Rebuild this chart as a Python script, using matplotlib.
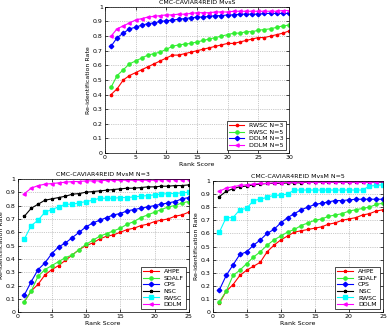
import numpy as np
import matplotlib.pyplot as plt

# top: CMC-CAVIAR4REID MvsS, ranks 1..30
rank_s = np.arange(1, 31)
rwsc_n3 = [0.40, 0.44, 0.50, 0.53, 0.55, 0.57, 0.59, 0.61, 0.63, 0.65, 0.67, 0.67, 0.68, 0.69, 0.70,
           0.71, 0.72, 0.73, 0.74, 0.75, 0.75, 0.76, 0.77, 0.78, 0.79, 0.79, 0.80, 0.81, 0.82, 0.835]
rwsc_n5 = [0.45, 0.53, 0.57, 0.61, 0.63, 0.65, 0.67, 0.68, 0.69, 0.71, 0.73, 0.74, 0.745, 0.75, 0.76,
           0.77, 0.78, 0.79, 0.80, 0.81, 0.82, 0.82, 0.83, 0.83, 0.84, 0.845, 0.85, 0.86, 0.87, 0.875]
ddlm_n3 = [0.73, 0.79, 0.82, 0.85, 0.86, 0.875, 0.885, 0.89, 0.90, 0.905, 0.91, 0.915, 0.92, 0.925, 0.93,
           0.93, 0.935, 0.94, 0.94, 0.945, 0.945, 0.95, 0.95, 0.95, 0.95, 0.955, 0.955, 0.955, 0.955, 0.955]
ddlm_n5 = [0.80, 0.85, 0.87, 0.89, 0.91, 0.92, 0.93, 0.935, 0.94, 0.945, 0.945, 0.95, 0.95, 0.955, 0.96,
           0.96, 0.96, 0.965, 0.965, 0.965, 0.97, 0.97, 0.97, 0.97, 0.97, 0.97, 0.97, 0.97, 0.975, 0.975]

# bottom: MvsM, ranks 1..25
rank_m = np.arange(1, 26)
methods = ["AHPE", "SDALF", "CPS", "NSC", "RWSC", "DDLM"]
mvsm_n3 = {
    "AHPE": [0.08, 0.16, 0.21, 0.28, 0.32, 0.35, 0.39, 0.43, 0.47, 0.50, 0.52, 0.55, 0.57, 0.58, 0.60,
             0.62, 0.63, 0.65, 0.66, 0.68, 0.69, 0.70, 0.72, 0.73, 0.75],
    "SDALF": [0.08, 0.16, 0.27, 0.32, 0.35, 0.38, 0.41, 0.43, 0.47, 0.51, 0.54, 0.57, 0.59, 0.61, 0.63,
              0.66, 0.68, 0.71, 0.73, 0.75, 0.77, 0.79, 0.80, 0.82, 0.83],
    "CPS": [0.13, 0.23, 0.32, 0.37, 0.44, 0.49, 0.52, 0.56, 0.60, 0.64, 0.67, 0.69, 0.71, 0.73, 0.74,
            0.76, 0.77, 0.78, 0.79, 0.80, 0.81, 0.82, 0.83, 0.85, 0.86],
    "NSC": [0.72, 0.78, 0.81, 0.84, 0.85, 0.86, 0.87, 0.885, 0.89, 0.90, 0.905, 0.91, 0.915, 0.92, 0.925,
            0.93, 0.93, 0.935, 0.94, 0.94, 0.945, 0.945, 0.95, 0.95, 0.955],
    "RWSC": [0.55, 0.65, 0.69, 0.75, 0.77, 0.79, 0.81, 0.81, 0.82, 0.83, 0.84, 0.855, 0.855, 0.855, 0.86,
             0.86, 0.865, 0.87, 0.875, 0.88, 0.885, 0.89, 0.89, 0.895, 0.90],
    "DDLM": [0.89, 0.93, 0.95, 0.96, 0.965, 0.97, 0.975, 0.98, 0.98, 0.985, 0.985, 0.985, 0.99, 0.99, 0.99,
             0.99, 0.99, 0.99, 0.99, 0.99, 0.995, 0.995, 0.995, 0.995, 0.995],
}
mvsm_n5 = {
    "AHPE": [0.07, 0.16, 0.21, 0.28, 0.32, 0.35, 0.38, 0.46, 0.51, 0.55, 0.58, 0.61, 0.62, 0.63, 0.64,
             0.65, 0.67, 0.68, 0.70, 0.71, 0.72, 0.74, 0.75, 0.77, 0.78],
    "SDALF": [0.08, 0.16, 0.28, 0.32, 0.37, 0.42, 0.46, 0.51, 0.55, 0.58, 0.61, 0.63, 0.66, 0.68, 0.70,
              0.71, 0.73, 0.74, 0.75, 0.77, 0.78, 0.79, 0.80, 0.82, 0.83],
    "CPS": [0.17, 0.28, 0.36, 0.44, 0.46, 0.51, 0.55, 0.60, 0.63, 0.68, 0.72, 0.75, 0.78, 0.80, 0.82,
            0.83, 0.84, 0.85, 0.85, 0.855, 0.86, 0.86, 0.86, 0.86, 0.86],
    "NSC": [0.88, 0.92, 0.94, 0.955, 0.96, 0.97, 0.975, 0.98, 0.98, 0.98, 0.985, 0.985, 0.985, 0.99, 0.99,
            0.99, 0.99, 0.99, 0.99, 0.99, 0.99, 0.99, 0.99, 0.99, 0.99],
    "RWSC": [0.61, 0.72, 0.72, 0.78, 0.79, 0.85, 0.86, 0.875, 0.89, 0.89, 0.90, 0.93, 0.93, 0.93, 0.93,
             0.93, 0.93, 0.93, 0.93, 0.93, 0.93, 0.93, 0.96, 0.965, 0.97],
    "DDLM": [0.92, 0.945, 0.955, 0.965, 0.97, 0.975, 0.98, 0.98, 0.985, 0.985, 0.99, 0.99, 0.99, 0.99, 0.99,
             0.99, 0.99, 0.99, 0.99, 0.99, 0.99, 0.99, 0.99, 0.99, 0.995],
}

colors = {"AHPE": "#ff0000", "SDALF": "#33ee33", "CPS": "#0000ff", "NSC": "#000000",
          "RWSC": "#00ffff", "DDLM": "#ff00ff"}
markers = {"AHPE": "*", "SDALF": "o", "CPS": "D", "NSC": "*", "RWSC": "s", "DDLM": "<"}

fs = 4.5
lw = 0.8
ms = 2.3


def style(ax, xmax, title, xstep=5):
    ax.set_xlim(0, xmax)
    ax.set_ylim(0, 1)
    ax.set_xticks(np.arange(0, xmax + 1, xstep))
    ax.set_yticks(np.arange(0, 1.01, 0.1))
    ax.set_yticklabels(["0"] + ["%.1f" % v for v in np.arange(0.1, 1.0, 0.1)] + ["1"])
    ax.grid(True, linestyle=":", color="#999999", linewidth=0.5)
    ax.tick_params(direction="in", labelsize=fs, length=2, width=0.5, pad=1.5, top=True, right=True)
    for s in ax.spines.values():
        s.set_linewidth(0.5)
    ax.set_title(title, fontsize=fs, pad=2)
    ax.set_xlabel("Rank Score", fontsize=fs, labelpad=1)
    ax.set_ylabel("Re-identification Rate", fontsize=fs, labelpad=1.5)
    ax.legend(loc="lower right", fontsize=fs, handlelength=2.5, borderpad=0.3,
              labelspacing=0.2, fancybox=False, edgecolor="black", framealpha=1)
    ax.get_legend().get_frame().set_linewidth(0.5)


fig = plt.figure(figsize=(3.9, 3.27), dpi=100)

ax = fig.add_axes([0.269, 0.532, 0.472, 0.447])
ax.plot(rank_s, rwsc_n3, color="#ff0000", marker=".", ms=ms + 1, lw=lw, label="RWSC N=3")
ax.plot(rank_s, rwsc_n5, color="#33ee33", marker="o", ms=ms, lw=lw, label="RWSC N=5")
ax.plot(rank_s, ddlm_n3, color="#0000ff", marker="D", ms=ms, lw=lw, label="DDLM N=3")
ax.plot(rank_s, ddlm_n5, color="#ff00ff", marker="<", ms=ms, lw=lw, label="DDLM N=5")
style(ax, 30, "CMC-CAVIAR4REID MvsS")

for rect, data, title in [([0.045, 0.045, 0.439, 0.408], mvsm_n3, "CMC-CAVIAR4REID MvsM N=3"),
                          ([0.545, 0.045, 0.437, 0.402], mvsm_n5, "CMC-CAVIAR4REID MvsM N=5")]:
    ax = fig.add_axes(rect)
    for m in methods:
        ax.plot(rank_m, data[m], color=colors[m], marker=markers[m], ms=ms, lw=lw, label=m)
    style(ax, 25, title)

fig.savefig("out.png", dpi=100)
